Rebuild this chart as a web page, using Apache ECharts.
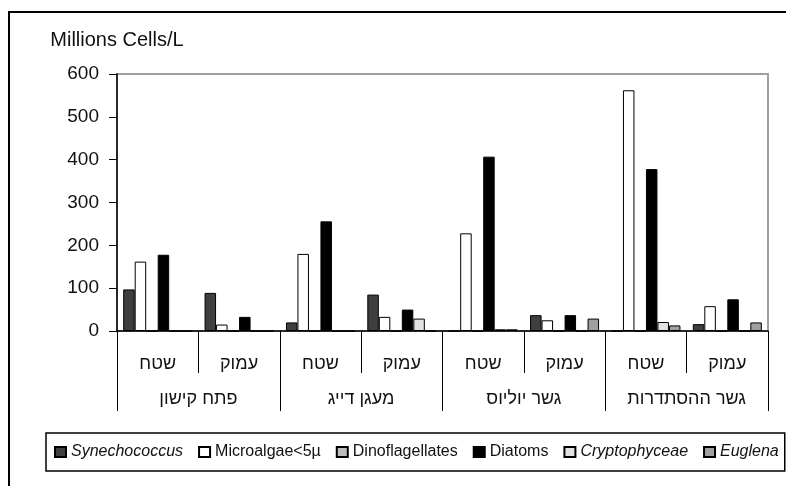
<!doctype html>
<html>
    <head>
        <meta charset="utf-8">
        <title>Phytoplankton - Kishon</title>
        <style>
            html, body { margin: 0; padding: 0; background: #fff; }
            #main { width: 786px; height: 486px; }
        </style>
    </head>
    <body>
        <div id="main"></div>
        <script src="https://cdn.jsdelivr.net/npm/echarts@6/dist/echarts.min.js"></script>
        <script>

            // sample depth per station, and the stations themselves
            var depths = ['שטח', 'עמוק', 'שטח', 'עמוק', 'שטח', 'עמוק', 'שטח', 'עמוק'];
            var stations = ['פתח קישון', 'מעגן דייג', 'גשר יוליוס', 'גשר ההסתדרות'];

            // Millions cells / L
            var synechococcus = [97, 89, 20, 85, 0, 37, 0, 16];
            var microalgae = [162, 15, 180, 33, 228, 25, 562, 58];
            var dinoflagellates = [0, 0, 0, 0, 0, 0, 0, 0];
            var diatoms = [178, 33, 256, 50, 407, 37, 378, 74];
            var cryptophyceae = [0, 0, 0, 29, 4, 0, 21, 0];
            var euglena = [0, 0, 0, 0, 4, 29, 13, 20];

            var yTicks = [0, 100, 200, 300, 400, 500, 600];

            var font = '"Liberation Sans", Arial, sans-serif';

            var seriesDefs = [
                { name: 'Synechococcus', data: synechococcus, color: '#3f3f3f', italic: true },
                { name: 'Microalgae<5µ', data: microalgae, color: '#ffffff' },
                { name: 'Dinoflagellates', data: dinoflagellates, color: '#bdbdbd' },
                { name: 'Diatoms', data: diatoms, color: '#000000' },
                { name: 'Cryptophyceae', data: cryptophyceae, color: '#e2e2e2', italic: true },
                { name: 'Euglena', data: euglena, color: '#a0a0a0', italic: true }
            ];

            var myChart = echarts.init(document.getElementById('main'));

            myChart.setOption({
                animation: false,
                backgroundColor: '#fff',
                textStyle: { fontFamily: font },
                graphic: [{
                    type: 'rect',
                    z: -10,
                    shape: { x: 9, y: 12, width: 800, height: 500 },
                    style: { fill: 'none', stroke: '#000', lineWidth: 2 }
                }],
                grid: {
                    left: 117,
                    right: 18,
                    top: 74,
                    bottom: 155,
                    show: true,
                    borderColor: '#a0a0a0',
                    borderWidth: 2
                },
                legend: {
                    left: 46,
                    top: 433,
                    width: 760,
                    padding: [11, 6, 11, 8],
                    itemGap: 15,
                    itemWidth: 11,
                    itemHeight: 10,
                    icon: 'rect',
                    borderColor: '#000',
                    borderWidth: 1.5,
                    textStyle: { fontSize: 16, color: '#111', fontFamily: font },
                    data: seriesDefs.map(function (s) {
                        return s.italic
                            ? { name: s.name, textStyle: { fontStyle: 'italic' } }
                            : { name: s.name };
                    })
                },
                xAxis: [{
                    type: 'category',
                    data: depths,
                    position: 'bottom',
                    axisLine: { lineStyle: { color: '#000', width: 1.5 } },
                    axisTick: { show: true, interval: 0, length: 42, lineStyle: { color: '#000' } },
                    axisLabel: { interval: 0, margin: 24, fontSize: 18, color: '#111' }
                }, {
                    type: 'category',
                    data: stations,
                    position: 'bottom',
                    axisLine: { show: false },
                    axisTick: { show: true, interval: 0, length: 80, lineStyle: { color: '#000' } },
                    axisLabel: { interval: 0, margin: 59, fontSize: 18, color: '#111' }
                }],
                yAxis: {
                    type: 'value',
                    min: yTicks[0],
                    max: yTicks[yTicks.length - 1],
                    interval: 100,
                    name: 'Millions Cells/L',
                    nameLocation: 'end',
                    nameGap: 24,
                    nameTextStyle: { fontSize: 20, color: '#111', fontFamily: font },
                    axisLine: { show: true, lineStyle: { color: '#000', width: 1.5 } },
                    axisTick: { show: true, length: 8, lineStyle: { color: '#000' } },
                    axisLabel: { margin: 18, fontSize: 19, color: '#111' },
                    splitLine: { show: false }
                },
                series: seriesDefs.map(function (s) {
                    return {
                        type: 'bar',
                        name: s.name,
                        data: s.data,
                        barWidth: 11.5,
                        barGap: '0%',
                        itemStyle: { color: s.color, borderColor: '#000', borderWidth: 1 }
                    };
                })
            });

        </script>
    </body>
</html>
